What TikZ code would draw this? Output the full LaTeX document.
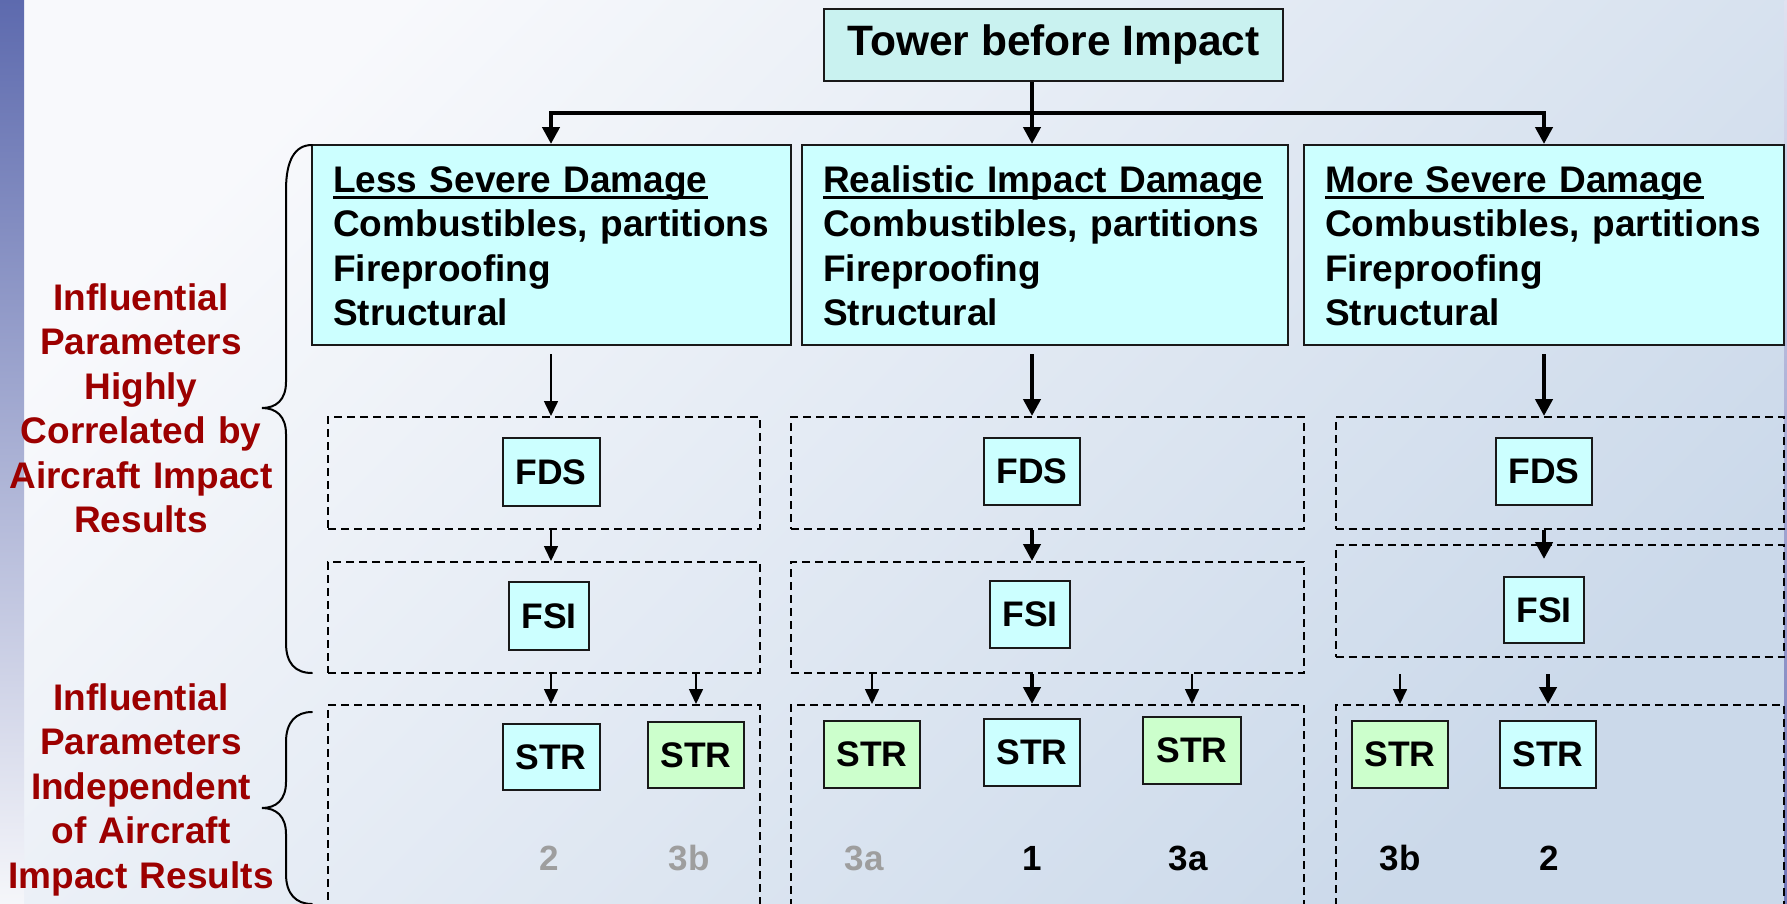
\documentclass[tikz,border=0pt]{standalone}
\usepackage{fontspec}
\setmainfont{Liberation Sans}
\usetikzlibrary{arrows.meta}
\definecolor{bgA}{HTML}{F8F9FC}
\definecolor{bgB}{HTML}{CBD9EA}
\definecolor{stripA}{HTML}{5D6AAE}
\definecolor{stripM}{HTML}{B6BAD6}
\definecolor{stripB}{HTML}{F5F6FA}
\definecolor{cyanfill}{HTML}{CCFFFF}
\definecolor{towerfill}{HTML}{C9F2F0}
\definecolor{greenfill}{HTML}{CCFFCC}
\definecolor{labelred}{HTML}{9C0000}
\definecolor{numgrey}{HTML}{9E9E9E}
\definecolor{edgeA}{HTML}{E0E2F0}
\definecolor{edgeB}{HTML}{6F76B8}
\newcommand\myul[1]{\setbox0\hbox{#1}\rlap{\rule[-6.5bp]{\wd0}{3bp}}\box0}
\tikzset{
  boxline/.style={draw=black!90, line width=2bp},
  towerbox/.style={boxline, fill=towerfill, inner sep=0pt, font=\fontsize{42.5bp}{50bp}\selectfont\bfseries},
  dmgbox/.style={boxline, fill=cyanfill, inner sep=0pt},
  dmgtext/.style={inner sep=0pt, text width=450bp, align=left, font=\fontsize{37bp}{44.5bp}\selectfont\bfseries, anchor=base west},
  redlabel/.style={inner sep=0pt, text width=300bp, align=center, text=labelred, font=\fontsize{37bp}{44.5bp}\selectfont\bfseries, anchor=base},
  dashbox/.style={draw=black, line width=2bp, dash pattern=on 8bp off 5bp, inner sep=0pt},
  cbox/.style={boxline, fill=cyanfill, inner sep=0pt, font=\fontsize{35.5bp}{40bp}\selectfont\bfseries},
  gbox/.style={cbox, fill=greenfill},
  numlab/.style={inner sep=0pt, anchor=base, font=\fontsize{35bp}{40bp}\selectfont\bfseries},
  greynum/.style={numlab, text=numgrey},
  thinar/.style={line width=1.6bp, -{Triangle[length=15bp,width=14bp]}},
  thickar/.style={line width=4.5bp, -{Triangle[length=17bp,width=17bp]}},
  bracepath/.style={line width=2bp, line cap=round},
}
\begin{document}
\begin{tikzpicture}[x=1bp,y=-1bp]
\path[use as bounding box] (0,0) rectangle (1787,903);
\clip (0,0) rectangle (1787,903);
% background
\shade[top color=bgA, bottom color=bgB, shading angle=45] (0,0) rectangle (1787,903);
\shade[top color=stripA, middle color=stripM, bottom color=stripB] (0,0) rectangle (24,903);
\shade[top color=edgeA, bottom color=edgeB] (1784.5,0) rectangle (1787,903);

% top node
\node[towerbox, minimum width=459bp, minimum height=72bp] (tower) at (1053.5,45) {Tower before Impact};

% damage boxes
\node[dmgbox, minimum width=479bp, minimum height=200bp] (dmg1) at (551.5,245) {};
\node[dmgbox, minimum width=486bp, minimum height=200bp] (dmg2) at (1045,245) {};
\node[dmgbox, minimum width=480bp, minimum height=200bp] (dmg3) at (1544,245) {};
\node[dmgtext] (dt1) at (333,192) {\myul{Less Severe Damage}\\Combustibles, partitions\\Fireproofing\\Structural};
\node[dmgtext] (dt2) at (823,192) {\myul{Realistic Impact Damage}\\Combustibles, partitions\\Fireproofing\\Structural};
\node[dmgtext] (dt3) at (1325,192) {\myul{More Severe Damage}\\Combustibles, partitions\\Fireproofing\\Structural};

% dashed groups
\node[dashbox, minimum width=432bp, minimum height=112bp] (dfds1) at (544,473) {};
\node[dashbox, minimum width=432bp, minimum height=111bp] (dfsi1) at (544,617.5) {};
\node[dashbox, minimum width=432bp, minimum height=210bp] (dstr1) at (544,810) {};
\node[dashbox, minimum width=513bp, minimum height=112bp] (dfds2) at (1047.5,473) {};
\node[dashbox, minimum width=513bp, minimum height=111bp] (dfsi2) at (1047.5,617.5) {};
\node[dashbox, minimum width=513bp, minimum height=210bp] (dstr2) at (1047.5,810) {};
\node[dashbox, minimum width=448.5bp, minimum height=112bp] (dfds3) at (1559.75,473) {};
\node[dashbox, minimum width=448.5bp, minimum height=112bp] (dfsi3) at (1559.75,601) {};
\node[dashbox, minimum width=448.5bp, minimum height=210bp] (dstr3) at (1559.75,810) {};

% solid boxes
\node[cbox, minimum width=97bp, minimum height=68bp] (fds1) at (551,472) {FDS};
\node[cbox, minimum width=96bp, minimum height=67bp] (fds2) at (1032,471.5) {FDS};
\node[cbox, minimum width=96bp, minimum height=67bp] (fds3) at (1544,471.5) {FDS};
\node[cbox, minimum width=80bp, minimum height=68bp] (fsi1) at (549,616) {FSI};
\node[cbox, minimum width=80bp, minimum height=67bp] (fsi2) at (1030,614.5) {FSI};
\node[cbox, minimum width=80bp, minimum height=66bp] (fsi3) at (1544,610) {FSI};
\node[cbox, minimum width=97bp, minimum height=66bp] (str1) at (551,757) {STR};
\node[gbox, minimum width=96bp, minimum height=66bp] (str1g) at (696,755) {STR};
\node[gbox, minimum width=96bp, minimum height=67bp] (str2g) at (872,754.5) {STR};
\node[cbox, minimum width=96bp, minimum height=67bp] (str2) at (1032,752.5) {STR};
\node[gbox, minimum width=98bp, minimum height=67bp] (str2h) at (1192,750.5) {STR};
\node[gbox, minimum width=96bp, minimum height=67bp] (str3g) at (1400,754.5) {STR};
\node[cbox, minimum width=96bp, minimum height=67bp] (str3) at (1548,754.5) {STR};

% numbers
\node[greynum] (n1) at (549,870) {2};
\node[greynum] (n2) at (689,870) {3b};
\node[greynum] (n3) at (864,870) {3a};
\node[numlab] (n4) at (1032,870) {1};
\node[numlab] (n5) at (1188,870) {3a};
\node[numlab] (n6) at (1400,870) {3b};
\node[numlab] (n7) at (1549,870) {2};

% red labels
\node[redlabel] (lab1) at (141,310) {Influential\\Parameters\\Highly\\Correlated by\\Aircraft Impact\\Results};
\node[redlabel] (lab2) at (141,710) {Influential\\Parameters\\Independent\\of Aircraft\\Impact Results};

% braces
\draw[bracepath] (312,145) .. controls (295,145) and (286,160) .. (286,190) -- (286,382) .. controls (286,400) and (276,408) .. (262,408) .. controls (276,408) and (286,416) .. (286,434) -- (286,643) .. controls (286,663) and (295,673) .. (312,673);
\draw[bracepath] (312,712) .. controls (296,712) and (286,722) .. (286,742) -- (286,782) .. controls (286,800) and (276,808) .. (262,808) .. controls (276,808) and (286,816) .. (286,834) -- (286,874) .. controls (286,894) and (296,904) .. (312,904);

% top connectors
\coordinate (bar) at (1032,113);
\draw[thickar] (tower.south -| fds2) -- (dmg2.north -| fds2);
\draw[line width=4.5bp, {Triangle[length=17bp,width=17bp]}-{Triangle[length=17bp,width=17bp]}] (dmg1.north -| fds1) |- (bar) -| (dmg3.north -| fds3);

% column 1
\draw[thinar] ([yshift=-8bp]dmg1.south -| fds1) -- (dfds1.north -| fds1);
\draw[thinar] (dfds1.south -| fds1) -- (dfsi1.north -| fds1);
\draw[thinar] (dfsi1.south -| str1) -- (dstr1.north -| str1);
\draw[thinar] (dfsi1.south -| str1g) -- (dstr1.north -| str1g);
% column 2
\draw[thickar] ([yshift=-8bp]dmg2.south -| fds2) -- (dfds2.north -| fds2);
\draw[thickar] (dfds2.south -| fds2) -- (dfsi2.north -| fds2);
\draw[thinar] (dfsi2.south -| str2g) -- (dstr2.north -| str2g);
\draw[thickar] (dfsi2.south -| str2) -- (dstr2.north -| str2);
\draw[thinar] (dfsi2.south -| str2h) -- (dstr2.north -| str2h);
% column 3
\draw[thickar] ([yshift=-8bp]dmg3.south -| fds3) -- (dfds3.north -| fds3);
\draw[thickar] (dfds3.south -| fds3) -- ([yshift=-15bp]dfsi3.north -| fds3);
\draw[thinar] ([yshift=-16bp]dfsi3.south -| str3g) -- (dstr3.north -| str3g);
\draw[thickar] ([yshift=-16bp]dfsi3.south -| str3) -- (dstr3.north -| str3);
\end{tikzpicture}
\end{document}
